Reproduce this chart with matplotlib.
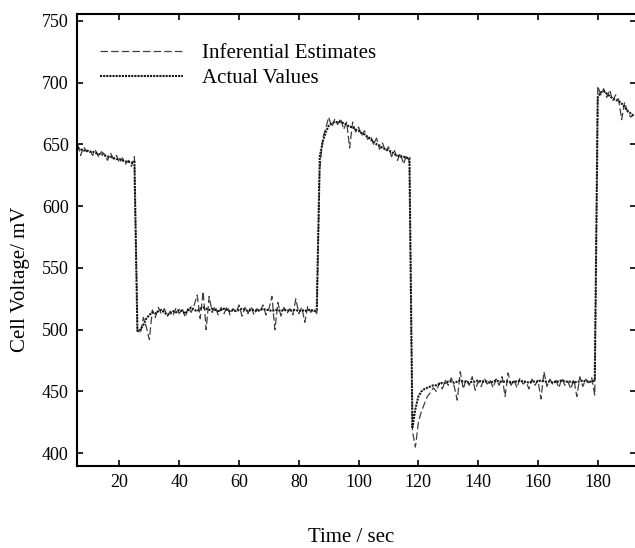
import matplotlib

matplotlib.use("Agg")
import matplotlib.pyplot as plt
import numpy as np

# time axis, one sample per second
time_s = np.arange(6, 193)

# actual cell voltage (mV)
actual_mv = [
    647, 646, 645, 645, 644, 644, 643, 642, 642, 641, 640, 640, 639, 638, 638, 637, 636, 636, 635, 636,
    499, 500, 504, 509, 512, 514, 513, 515, 516, 514, 512, 513, 515, 514, 516, 515, 513, 516, 518, 516,
    515, 517, 518, 517, 516, 517, 516, 515, 516, 517, 516, 515, 516, 515, 516, 517, 516, 515, 516, 516,
    515, 516, 517, 516, 516, 515, 516, 516, 515, 516, 516, 515, 516, 516, 515, 516, 515, 516, 516, 515,
    516,
    640, 652, 660, 665, 667, 668, 668, 668, 667, 666, 664, 664, 662, 661, 659, 658, 656, 654, 652, 650,
    649, 647, 646, 645, 644, 642, 641, 640, 640, 639, 639,
    421, 436, 446, 450, 452, 453, 454, 455, 455, 456, 457, 457,
    458, 458, 457, 458, 459, 458, 458, 457, 458, 458, 459, 458, 458, 458, 457, 458, 459, 458, 458, 458,
    458, 457, 458, 458, 459, 458, 458, 457, 458, 458, 458, 459, 458, 458, 458, 457, 458, 458, 459, 458,
    458, 458, 457, 458, 458, 459, 458, 458, 458, 459,
    688, 692, 693, 691, 689, 687, 686, 685, 683, 680, 677, 675, 673,
]

# inferential estimates (mV)
estimate_mv = [
    650, 641, 648, 644, 646, 641, 645, 640, 644, 642, 637, 643, 638, 641, 635, 639, 634, 637, 632, 640,
    500, 497, 510, 502, 492, 516, 510, 518, 513, 517, 511, 515, 512, 518, 513, 517, 510, 518, 514, 520,
    528, 509, 531, 500, 527, 514, 519, 512, 518, 513, 519, 512, 517, 514, 520, 511, 518, 513, 519, 512,
    517, 514, 520, 512, 517, 527, 500, 522, 511, 518, 513, 517, 512, 525, 513, 518, 506, 519, 514, 517,
    513,
    630, 655, 663, 672, 664, 670, 666, 671, 662, 668, 647, 668, 660, 664, 657, 661, 654, 657, 650, 655,
    646, 651, 644, 648, 640, 645, 637, 643, 634, 641, 636,
    418, 405, 425, 434, 440, 446, 449, 453, 450, 457, 452, 459,
    455, 461, 454, 443, 466, 452, 460, 455, 462, 451, 458, 454, 461, 456, 459, 453, 460, 455, 462, 446,
    465, 455, 459, 453, 461, 456, 458, 452, 460, 455, 459, 444, 466, 454, 460, 456, 459, 453, 461, 455,
    458, 452, 460, 446, 462, 454, 460, 457, 461, 447,
    697, 690, 695, 688, 694, 685, 690, 686, 670, 684, 676, 672, 674,
]

x_ticks = [20, 40, 60, 80, 100, 120, 140, 160, 180]
y_ticks = [400, 450, 500, 550, 600, 650, 700, 750]

plt.rcParams["font.family"] = ["Liberation Serif", "DejaVu Serif"]

fig = plt.figure(figsize=(6.35, 5.48), dpi=100)
ax = fig.add_axes([0.1213, 0.1496, 0.8803, 0.8257])

ax.plot(time_s, estimate_mv, color="#404040", lw=0.9,
        linestyle=(0, (6, 2.5)), label="Inferential Estimates")
ax.plot(time_s, actual_mv, color="#151515", lw=1.5,
        linestyle=(0, (1, 0.5)), label="Actual Values")

ax.set_xlim(5.8, 192.8)
ax.set_ylim(389.7, 755.8)
ax.set_xticks(x_ticks)
ax.set_yticks(y_ticks)
ax.tick_params(direction="in", top=True, right=True, length=4, width=1.2,
               labelsize=13, pad=6)
for s in ax.spines.values():
    s.set_linewidth(1.5)

fig.text(351 / 635, 6 / 548, "Time / sec", fontsize=15, ha="center", va="baseline")
fig.text(21 / 635, 1 - 279 / 548, "Cell Voltage/ mV", fontsize=15,
         rotation=90, ha="center", va="center")

ax.legend(loc="upper left", bbox_to_anchor=(0.041, 0.933), frameon=False,
          fontsize=15, handlelength=4.0, handletextpad=0.9,
          borderpad=0, borderaxespad=0, labelspacing=0.25)

fig.savefig("out.png", dpi=100)
